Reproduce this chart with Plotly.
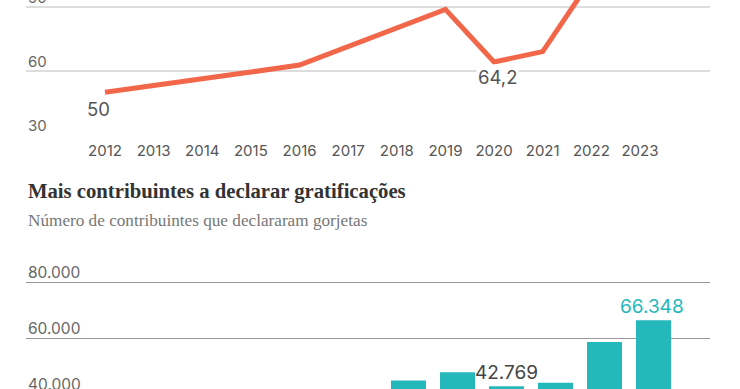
import plotly.graph_objects as go

# ---- data ----
line_years = [2012, 2013, 2014, 2015, 2016, 2017, 2018, 2019, 2020, 2021, 2022]
line_values = [50, 53, 56.3, 59.5, 62.8, 71.4, 79.7, 88.9, 64.2, 69.1, 103]
line_axis_years = [2012, 2013, 2014, 2015, 2016, 2017, 2018, 2019, 2020, 2021, 2022, 2023]
line_ticks = [30, 60, 90]
line_labelled = {2012: 50, 2020: 64.2}

bar_years = [2018, 2019, 2020, 2021, 2022, 2023]
bar_values = [44800, 47800, 42769, 44000, 58600, 66348]
bar_ticks = [40000, 60000, 80000]
bar_labelled = [2020, 2023]

title = "Mais contribuintes a declarar gratificações"
subtitle = "Número de contribuintes que declararam gorjetas"

# ---- style ----
W, H = 740, 389
LINE_COLOR = "#f2674a"
BAR_COLOR = "#25b8bb"
SANS = "Inter, 'Open Sans', sans-serif"
SERIF = "'Liberation Serif', 'Times New Roman', serif"

x_dom = [26 / W, 710 / W]
top_range = [30, 93.3]
top_dom = [(H - 135) / H, 1.0]
bar_range = [41786, 84286]
bar_dom = [0.0, (H - 270) / H]


def to_paper(v, rng, dom):
    return dom[0] + (v - rng[0]) / (rng[1] - rng[0]) * (dom[1] - dom[0])


def fmt_thousands(v):
    return f"{v:,}".replace(",", ".")


def fmt_dec(v):
    return f"{v:g}".replace(".", ",")


fig = go.Figure()
fig.add_trace(go.Scatter(
    x=line_years, y=line_values, mode="lines",
    line=dict(color=LINE_COLOR, width=5),
    xaxis="x", yaxis="y", hoverinfo="skip", showlegend=False,
))
fig.add_trace(go.Bar(
    x=bar_years, y=bar_values, width=0.714,
    marker=dict(color=BAR_COLOR, line=dict(width=0)),
    xaxis="x2", yaxis="y2", hoverinfo="skip", showlegend=False,
))

ann = []
# y tick labels, top chart
for t in line_ticks:
    ann.append(dict(xref="paper", yref="paper", x=x_dom[0],
                    y=to_paper(t, top_range, top_dom), xanchor="left", yanchor="bottom",
                    yshift=-2, text=str(t), showarrow=False,
                    font=dict(family=SANS, size=15, color="#666")))
# y tick labels, bar chart
for t in bar_ticks:
    ann.append(dict(xref="paper", yref="paper", x=x_dom[0],
                    y=to_paper(t, bar_range, bar_dom), xanchor="left", yanchor="bottom",
                    yshift=-2, text=fmt_thousands(t), showarrow=False,
                    font=dict(family=SANS, size=15.5, color="#666")))
# line point labels
for yr, v in line_labelled.items():
    ann.append(dict(xref="x", yref="y", x=yr, y=v, yanchor="top",
                    yshift=-4 if yr == 2012 else -2,
                    xshift=-6 if yr == 2012 else 3,
                    text=fmt_dec(v), showarrow=False,
                    bgcolor="white" if yr == 2020 else "rgba(0,0,0,0)", borderpad=1,
                    font=dict(family=SANS, size=18.5, color="#555")))
# bar labels
for yr in bar_labelled:
    v = bar_values[bar_years.index(yr)]
    ann.append(dict(xref="x2", yref="y2", x=yr, y=v, yanchor="bottom", yshift=0,
                    xshift=-2 if yr == 2023 else 0,
                    text=fmt_thousands(v), showarrow=False,
                    font=dict(family=SANS, size=19,
                              color=BAR_COLOR if yr == 2023 else "#444")))
# title & subtitle
ann.append(dict(xref="paper", yref="paper", x=x_dom[0], y=(H - 191) / H,
                xanchor="left", yanchor="middle", text=f"<b>{title}</b>", showarrow=False,
                font=dict(family=SERIF, size=20.7, color="#333")))
ann.append(dict(xref="paper", yref="paper", x=x_dom[0], y=(H - 220) / H,
                xanchor="left", yanchor="middle", text=subtitle, showarrow=False,
                font=dict(family=SERIF, size=17.2, color="#777")))

fig.update_layout(
    width=W, height=H, margin=dict(l=0, r=0, t=0, b=0),
    paper_bgcolor="white", plot_bgcolor="white",
    separators=",.",
    hovermode=False,
    annotations=ann,
    xaxis=dict(domain=x_dom, range=[2010.376, 2024.44], anchor="y",
               tickvals=line_axis_years, ticktext=[str(y) for y in line_axis_years],
               showgrid=False, zeroline=False, showline=False, ticks="",
               ticklabelstandoff=5,
               tickfont=dict(family=SANS, size=15, color="#555")),
    yaxis=dict(domain=top_dom, range=top_range, tickvals=line_ticks,
               showticklabels=False, showgrid=True, gridcolor="#dddddd", gridwidth=1.5,
               zeroline=False, showline=False, ticks=""),
    xaxis2=dict(domain=x_dom, range=[2010.194, 2024.153], anchor="y2",
                showticklabels=False, showgrid=False, zeroline=False, showline=False, ticks=""),
    yaxis2=dict(domain=bar_dom, range=bar_range, tickvals=bar_ticks,
                showticklabels=False, showgrid=True, gridcolor="#9a9a9a", gridwidth=1.2,
                zeroline=False, showline=False, ticks=""),
)

fig.write_html("out.html", config={"displayModeBar": False},
               post_script="document.body.style.margin='0px';")
